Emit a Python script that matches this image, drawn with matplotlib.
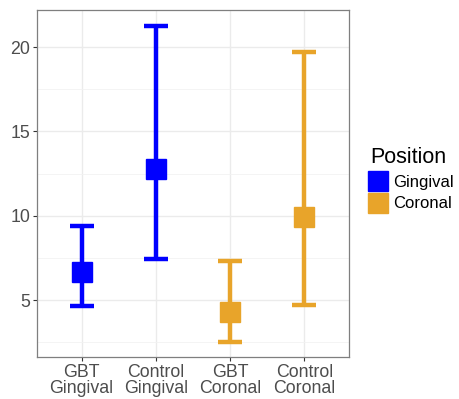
import matplotlib.pyplot as plt
from matplotlib.lines import Line2D

plt.rcParams['font.family'] = ['Liberation Sans', 'DejaVu Sans']

groups = ['GBT\nGingival', 'Control\nGingival', 'GBT\nCoronal', 'Control\nCoronal']
position = ['Gingival', 'Gingival', 'Coronal', 'Coronal']
means = [6.65, 12.8, 4.3, 9.9]
lower = [4.65, 7.45, 2.5, 4.7]
upper = [9.4, 21.25, 7.3, 19.7]

colors = {'Gingival': '#0000FF', 'Coronal': '#E8A42A'}

fig = plt.figure(figsize=(4.6, 3.99), dpi=100)
ax = fig.add_axes([0.0804, 0.1053, 0.6783, 0.8697])

xs = list(range(1, len(groups) + 1))
for x, m, lo, hi, p in zip(xs, means, lower, upper, position):
    c = colors[p]
    ax.errorbar(x, m, yerr=[[m - lo], [hi - m]], fmt='none', ecolor=c,
                elinewidth=3.2, capsize=8.3, capthick=3.2, zorder=3)
    ax.plot(x, m, marker='s', markersize=14.5, color=c, linestyle='none', zorder=4)

ax.set_xlim(0.4, 4.6)
ax.set_ylim(1.63, 22.2)
ax.set_xticks(xs)
ax.set_xticklabels(groups, fontsize=12.8, color='#4D4D4D', linespacing=0.9)
ax.set_yticks([5, 10, 15, 20])
ax.set_yticks([2.5, 7.5, 12.5, 17.5], minor=True)
ax.tick_params(axis='both', which='major', labelsize=12.8, labelcolor='#4D4D4D',
               color='#333333', length=3, width=0.8, pad=2)
ax.tick_params(axis='y', which='minor', length=0)
ax.grid(True, which='major', color='#EBEBEB', linewidth=1.0, zorder=0)
ax.grid(True, which='minor', axis='y', color='#F2F2F2', linewidth=0.6, zorder=0)
ax.set_axisbelow(True)
for s in ax.spines.values():
    s.set_color('#7F7F7F')
    s.set_linewidth(0.9)

handles = [Line2D([], [], marker='s', markersize=14.5, color=colors[k], linestyle='none')
           for k in ['Gingival', 'Coronal']]
leg = fig.legend(handles, ['Gingival', 'Coronal'], title='Position',
                 loc='upper left', bbox_to_anchor=(0.79, 0.648), frameon=False,
                 fontsize=12.0, title_fontsize=15.5, handlelength=1.0,
                 handletextpad=0.4, labelspacing=0.4, borderaxespad=0)
leg._legend_box.align = 'left'

fig.savefig('out.png', dpi=100)
